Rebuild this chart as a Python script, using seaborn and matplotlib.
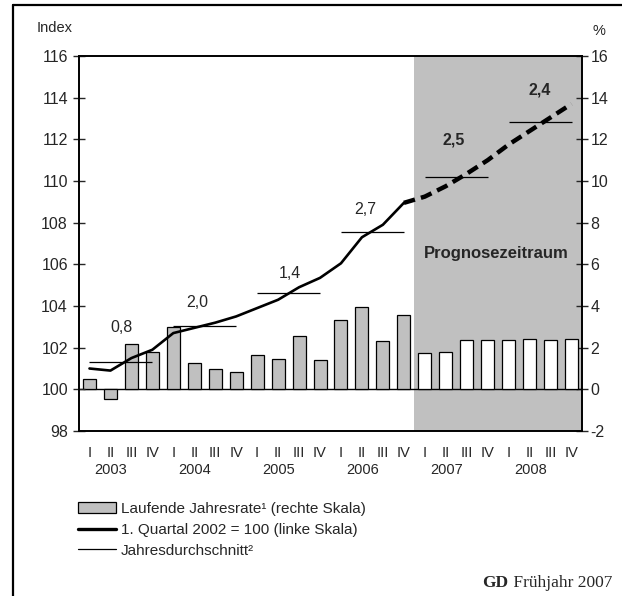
import numpy as np
import pandas as pd
import matplotlib
matplotlib.use('Agg')
import matplotlib.pyplot as plt
from matplotlib.patches import Patch
from matplotlib.lines import Line2D
import seaborn as sns

# quarterly data 2003 I .. 2008 IV
years = ['2003', '2004', '2005', '2006', '2007', '2008']
quarters = ['I', 'II', 'III', 'IV']
# running annual rate in % (right scale)
rate = [0.5, -0.45, 2.2, 1.8,
        3.0, 1.25, 1.0, 0.82,
        1.67, 1.47, 2.56, 1.4,
        3.35, 3.97, 2.3, 3.55,
        1.75, 1.8, 2.37, 2.37,
        2.37, 2.44, 2.37, 2.44]
# index, 1st quarter 2002 = 100 (left scale)
index = [101.0, 100.9, 101.5, 101.9,
         102.7, 102.95, 103.2, 103.5,
         103.9, 104.3, 104.9, 105.35,
         106.05, 107.3, 107.9, 108.95,
         109.25, 109.75, 110.35, 111.0,
         111.75, 112.4, 113.05, 113.7]
# annual averages (left scale) and their growth labels
avg_level = [101.3, 103.05, 104.63, 107.56, 110.2, 112.85]
avg_label = ['0,8', '2,0', '1,4', '2,7', '2,5', '2,4']
avg_label_x = [1.55, 5.15, 9.57, 13.14, 17.37, 21.47]
avg_label_y = [102.95, 104.15, 105.55, 108.65, 111.97, 114.37]
n_hist = 16  # quarters up to 2006 IV are observed

pos = np.arange(len(rate))
df = pd.DataFrame({'pos': pos, 'rate': rate, 'index': index,
                   'period': ['hist'] * n_hist + ['prog'] * (len(rate) - n_hist)})

sns.set_style('white')
plt.rcParams['font.family'] = ['Liberation Sans', 'DejaVu Sans']
plt.rcParams['axes.unicode_minus'] = False

fig = plt.figure(figsize=(6.22, 5.96), dpi=100)
ax = fig.add_axes([79 / 622, 1 - 431 / 596, 503 / 622, 375 / 596])
ax2 = ax.twinx()
ax.set_zorder(2)
ax.patch.set_visible(False)
ax2.set_zorder(1)

# forecast area, zero line and bars on the right scale
ax2.axvspan(n_hist - 0.5, len(rate) - 0.5, color='#c0c0c0', lw=0, zorder=0)
ax2.axhline(0, color='black', lw=1.0, zorder=1)
sns.barplot(data=df, x='pos', y='rate', hue='period', native_scale=True,
            palette={'hist': '#c0c0c0', 'prog': 'white'}, dodge=False,
            width=0.62, edgecolor='black', linewidth=0.9, legend=False,
            ax=ax2, zorder=2)

# index line on the left scale
hist = df.iloc[:n_hist]
prog = df.iloc[n_hist - 1:]
sns.lineplot(data=hist, x='pos', y='index', color='black', lw=1.9, ax=ax)
sns.lineplot(data=prog, x='pos', y='index', color='black', lw=3.2,
             linestyle=(0, (2.6, 1.4)), ax=ax)

# annual averages
for i, lvl in enumerate(avg_level):
    ax.hlines(lvl, 4 * i, 4 * i + 3, color='black', lw=0.9)
    ax.text(avg_label_x[i], avg_label_y[i], avg_label[i], ha='center', va='center',
            fontsize=11.5, fontweight='bold' if i >= 4 else 'normal')

ax.text(19.43, 106.54, 'Prognosezeitraum', ha='center', va='center',
        fontsize=12, fontweight='bold')

# axes limits and ticks
ax.set_xlim(-0.5, len(rate) - 0.5)
ax.set_ylim(98, 116)
ax.set_yticks(np.arange(98, 117, 2))
ax2.set_ylim(-2, 16)
ax2.set_yticks(np.arange(-2, 17, 2))
ax.set_xticks(np.arange(-0.5, len(rate), 4))
ax.set_xticklabels([])
ax.set_xticks(pos, [q for _ in years for q in quarters], minor=True)
ax.set_xlabel('')
ax.set_ylabel('')
ax2.set_xlabel('')
ax2.set_ylabel('')
ax.tick_params(axis='y', direction='inout', length=8, width=1, labelsize=11.5, pad=4)
ax2.tick_params(axis='y', direction='inout', length=8, width=1, labelsize=11.5, pad=2)
ax.tick_params(axis='x', which='major', direction='inout', length=9, width=1.2)
ax.tick_params(axis='x', which='minor', length=0, labelsize=10.5, pad=11)
ax2.tick_params(axis='x', which='both', length=0, labelbottom=False)
for a in (ax, ax2):
    for s in a.spines.values():
        s.set_color('black')
        s.set_linewidth(1.2)

for i, y in enumerate(years):
    ax.text(4 * i + 1.03, -0.104, y, transform=ax.get_xaxis_transform(),
            ha='center', va='center', fontsize=10.5)

fig.text(37 / 622, 1 - 28 / 596, 'Index', ha='left', va='center', fontsize=10.5)
fig.text(599 / 622, 1 - 31 / 596, '%', ha='center', va='center', fontsize=10.5)

handles = [Patch(facecolor='#c0c0c0', edgecolor='black', linewidth=0.9),
           Line2D([], [], color='black', lw=2.4),
           Line2D([], [], color='black', lw=0.9)]
labels = ['Laufende Jahresrate¹ (rechte Skala)',
          '1. Quartal 2002 = 100 (linke Skala)',
          'Jahresdurchschnitt²']
fig.legend(handles, labels, loc='upper left', bbox_to_anchor=(78 / 622, 1 - 502 / 596),
           frameon=False, fontsize=11, handlelength=2.5, handleheight=0.7,
           handletextpad=0.3, labelspacing=0.45, borderaxespad=0, borderpad=0)

# source note
t2 = fig.text(612 / 622, 1 - 583 / 596, ' Frühjahr 2007', ha='right', va='center',
              fontsize=12.5, family='Liberation Serif')
fig.canvas.draw()
bb = t2.get_window_extent()
fig.text(bb.x0 / 622, 1 - 583 / 596, 'GD', ha='right', va='center',
         fontsize=12.5, family='Liberation Serif', fontweight='bold')

# outer frame (left and top)
fig.add_artist(Line2D([12.5 / 622, 12.5 / 622], [0, 1 - 5 / 596], color='black', lw=1.6))
fig.add_artist(Line2D([12.5 / 622, 1], [1 - 5 / 596, 1 - 5 / 596], color='black', lw=1.6))

fig.savefig('out.png', dpi=100)
